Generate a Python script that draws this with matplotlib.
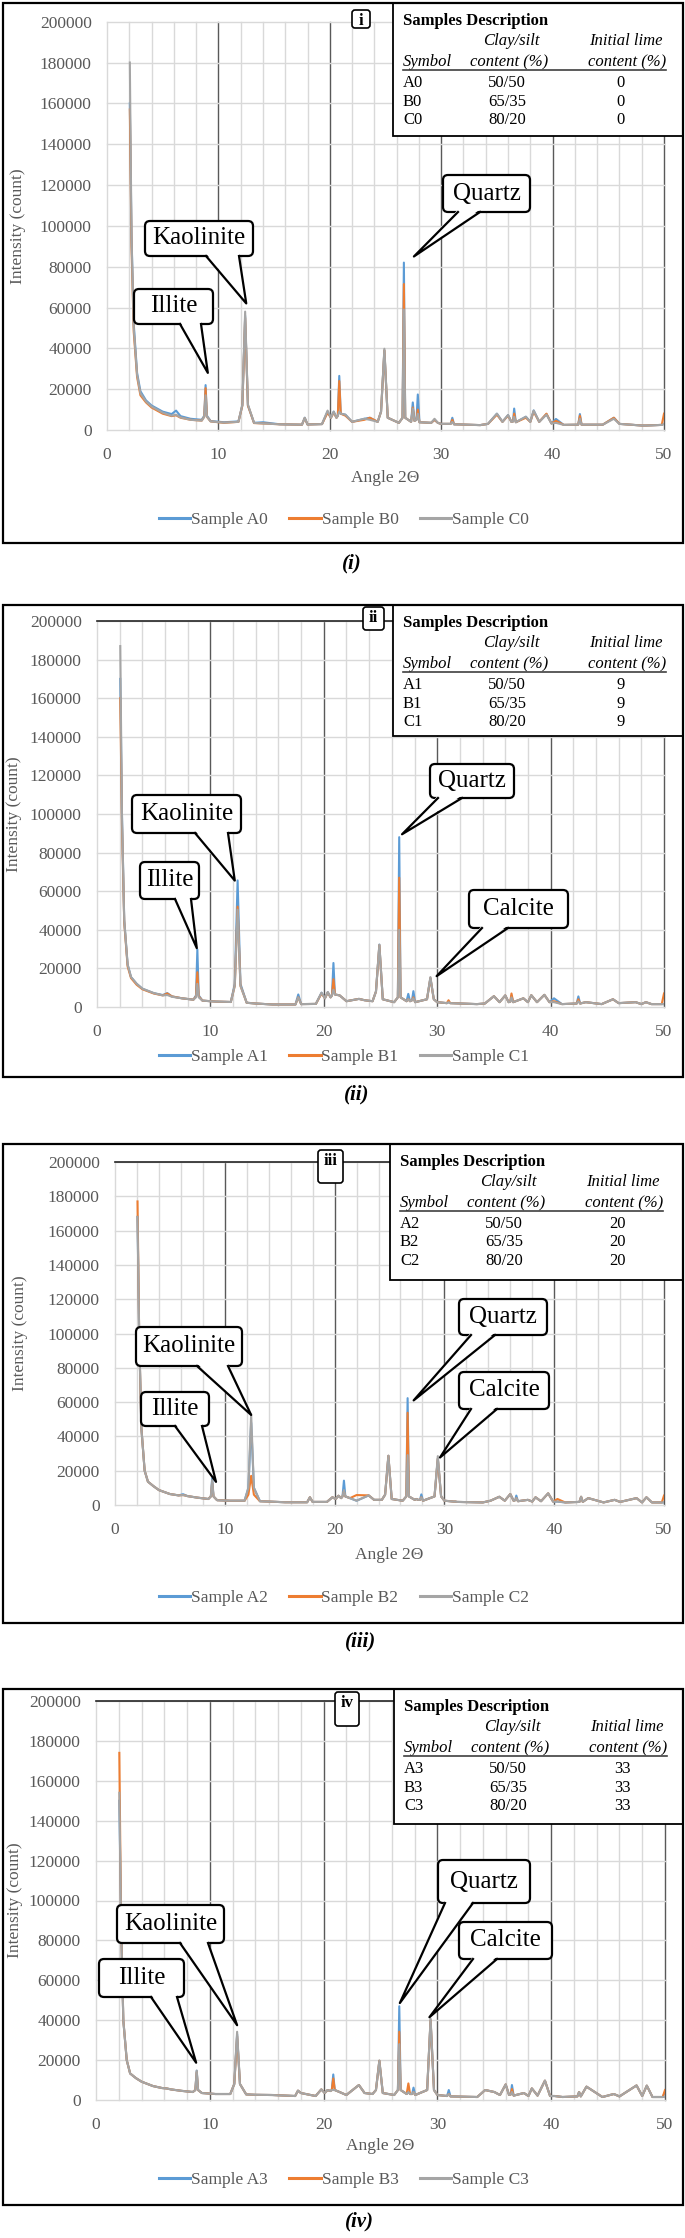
import matplotlib.pyplot as plt
import numpy as np
from matplotlib.patches import FancyBboxPatch, Polygon, Rectangle

plt.rcParams["font.family"] = ["Liberation Serif", "DejaVu Serif"]

W, H = 685, 2238

# 2-theta positions the scans were read at (same grid for every sample)
angle = [
    2.05, 2.2, 2.4, 2.7, 3.0, 3.5, 4.0, 5.0, 5.8, 6.2,
    6.6, 7.5, 8.5, 8.73, 8.85, 8.97, 9.3, 10.5, 11.8, 12.15,
    12.4, 12.65, 13.2, 14.0, 15.5, 17.5, 17.75, 18.0, 19.3, 19.8,
    20.1, 20.35, 20.6, 20.72, 20.85, 20.98, 21.4, 22.0, 23.1, 23.6,
    24.3, 24.6, 24.9, 25.2, 26.2, 26.53, 26.65, 26.77, 27.3, 27.45,
    27.6, 27.78, 27.9, 28.05, 29.1, 29.4, 29.7, 30.0, 30.85, 31.0,
    31.15, 33.5, 34.2, 35.0, 35.5, 36.0, 36.3, 36.45, 36.55, 36.7,
    37.6, 38.0, 38.3, 38.8, 39.45, 39.9, 40.3, 41.0, 42.3, 42.45,
    42.6, 43.1, 44.5, 45.5, 46.0, 47.5, 48.0, 48.4, 48.9, 49.8,
    50.0,
]

# intensities in thousands of counts
counts_a0 = [
    160, 95, 52, 28, 19, 14.5, 12, 9, 7.8, 9.5,
    6.8, 5.5, 5.0, 7.0, 22, 7.0, 4.4, 3.8, 4.2, 12,
    56, 12, 3.5, 3.8, 2.8, 2.6, 6.0, 2.7, 2.9, 9.0,
    6.0, 9.0, 6.0, 7.0, 26.5, 8.0, 7.5, 4.0, 5.5, 6.0,
    4.0, 9.0, 39, 6.0, 3.5, 6.0, 82, 6.0, 4.0, 13.5,
    4.5, 5.0, 17.4, 3.8, 3.5, 5.0, 3.5, 3.0, 3.0, 6.0,
    2.8, 2.4, 3.0, 8.0, 4.0, 7.3, 4.0, 4.2, 10.5, 3.8,
    6.5, 4.0, 9.6, 4.0, 7.8, 3.2, 5.4, 2.5, 2.6, 7.8,
    2.6, 2.6, 2.6, 6.0, 3.0, 2.4, 2.2, 2.2, 2.3, 2.5,
    3.0,
]
counts_b0 = [
    157, 90, 48, 26, 17, 13.5, 11, 8, 6.8, 7.2,
    6.0, 5.0, 4.6, 6.5, 20.5, 6.5, 4.2, 3.5, 4.0, 12,
    55, 12, 3.4, 3.2, 2.8, 2.6, 5.8, 2.7, 2.9, 8.5,
    6.0, 8.5, 6.0, 7.0, 24, 8.0, 7.0, 4.0, 5.0, 6.0,
    4.0, 9.0, 39, 6.0, 3.5, 6.0, 71.5, 6.0, 4.0, 11,
    4.5, 5.0, 10, 3.8, 3.5, 5.0, 3.5, 3.0, 3.0, 5.0,
    2.8, 2.4, 3.0, 7.5, 4.0, 7.0, 4.0, 4.2, 8.0, 3.8,
    6.0, 4.0, 9.0, 4.0, 8.0, 3.2, 4.5, 2.5, 2.6, 7.0,
    2.6, 2.6, 2.6, 6.0, 3.0, 2.4, 2.2, 2.2, 2.3, 2.5,
    8.0,
]
counts_c0 = [
    180, 95, 50, 27, 18, 14, 11.5, 8.5, 7.0, 7.5,
    6.2, 5.0, 4.6, 6.5, 17, 6.5, 4.2, 3.6, 4.0, 12.5,
    58, 12.5, 3.5, 3.2, 2.8, 2.6, 6.0, 2.7, 2.9, 9.5,
    6.0, 9.0, 6.0, 7.0, 9.0, 8.0, 7.5, 4.0, 5.5, 5.0,
    4.0, 9.0, 39.8, 6.0, 3.5, 6.0, 59, 6.0, 4.0, 10.5,
    4.5, 5.0, 8.0, 3.8, 3.5, 5.5, 3.5, 3.0, 3.0, 4.0,
    2.8, 2.4, 3.0, 8.0, 4.0, 7.3, 4.0, 4.2, 6.5, 3.8,
    6.5, 4.0, 9.5, 4.0, 7.5, 3.2, 3.5, 2.5, 2.6, 5.5,
    2.6, 2.6, 2.6, 5.5, 3.0, 2.4, 2.2, 2.2, 2.3, 2.5,
    3.0,
]

counts_a1 = [
    170, 100, 45, 22, 15.5, 12, 9.5, 7.2, 6.2, 7.2,
    5.5, 4.5, 3.8, 6.0, 29.8, 6.0, 3.3, 2.8, 2.6, 12,
    65.6, 12, 2.2, 1.8, 1.3, 1.3, 6.5, 1.5, 1.6, 7.4,
    4.5, 7.7, 5.0, 6.0, 22.8, 6.5, 6.0, 3.0, 4.2, 3.5,
    3.0, 8.0, 32.3, 4.0, 2.5, 5.0, 88, 5.0, 3.0, 6.8,
    3.0, 3.5, 8.2, 2.5, 4.0, 15, 4.0, 2.5, 2.0, 2.5,
    2.0, 1.5, 1.8, 5.6, 2.5, 6.0, 2.5, 2.8, 6.0, 2.5,
    4.5, 2.5, 6.1, 2.5, 6.3, 2.5, 4.5, 1.5, 1.8, 5.5,
    1.8, 2.5, 1.5, 4.0, 2.0, 2.5, 1.5, 2.5, 1.5, 1.5,
    1.5,
]
counts_b1 = [
    160, 95, 44, 21, 15, 11.5, 9.2, 7.0, 6.0, 7.0,
    5.5, 4.5, 3.8, 5.5, 18, 5.5, 3.3, 2.8, 2.6, 11,
    52, 11, 2.2, 1.8, 1.3, 1.3, 5.0, 1.5, 1.6, 7.0,
    4.5, 7.5, 5.0, 6.0, 14.4, 6.5, 6.0, 3.0, 4.2, 3.5,
    3.0, 8.0, 32, 4.0, 2.5, 5.0, 67, 5.0, 3.0, 4.0,
    3.0, 3.5, 5.0, 2.5, 4.0, 15, 4.0, 2.5, 2.0, 3.5,
    2.0, 1.5, 1.8, 5.6, 2.5, 6.0, 2.5, 2.8, 7.0, 2.5,
    4.5, 2.5, 6.1, 2.5, 6.3, 2.5, 3.0, 1.5, 1.8, 4.0,
    1.8, 2.5, 1.5, 4.0, 2.0, 2.5, 1.5, 2.5, 1.5, 1.5,
    7.0,
]
counts_c1 = [
    187, 100, 45, 22, 15.5, 12, 9.5, 7.2, 6.0, 6.2,
    5.3, 4.5, 3.8, 5.0, 12, 5.0, 3.3, 2.8, 2.6, 11,
    50.4, 11, 2.2, 1.8, 1.3, 1.3, 5.0, 1.5, 1.6, 7.4,
    4.5, 7.7, 5.0, 6.0, 9.0, 6.5, 6.0, 3.0, 4.2, 3.5,
    3.0, 8.0, 32.3, 4.0, 2.5, 5.0, 40, 5.0, 3.0, 4.0,
    3.0, 3.5, 4.5, 2.5, 4.0, 15.5, 4.0, 2.5, 2.0, 2.5,
    2.0, 1.5, 1.8, 5.6, 2.5, 6.0, 2.5, 2.8, 5.0, 2.5,
    4.5, 2.5, 6.1, 2.5, 6.3, 2.5, 2.5, 1.5, 1.8, 3.0,
    1.8, 2.5, 1.5, 4.0, 2.0, 2.5, 1.5, 2.5, 1.5, 1.5,
    1.5,
]

counts_a2 = [
    168, 100, 45, 20, 13.6, 11, 8.7, 6.4, 5.6, 6.3,
    5.2, 4.3, 3.5, 5.0, 15.5, 5.0, 2.8, 2.5, 2.5, 10,
    48, 10, 2.2, 2.0, 1.6, 1.6, 4.5, 1.8, 1.8, 4.5,
    3.5, 5.4, 4.0, 5.0, 14.2, 5.0, 4.0, 2.5, 5.6, 3.0,
    3.0, 6.0, 28.7, 3.5, 2.5, 5.0, 62.3, 5.0, 3.0, 3.5,
    3.0, 3.0, 6.2, 2.5, 5.0, 27, 5.0, 2.5, 2.0, 2.0,
    1.8, 1.5, 2.5, 4.8, 2.5, 6.4, 2.5, 2.8, 5.5, 2.2,
    3.0, 2.0, 4.5, 2.2, 6.8, 2.0, 2.0, 1.5, 1.8, 4.8,
    1.8, 4.0, 1.5, 3.0, 1.8, 4.0, 1.5, 4.5, 1.5, 1.5,
    1.5,
]
counts_b2 = [
    177, 100, 45, 20, 13.6, 11, 8.7, 6.4, 5.6, 5.8,
    5.2, 4.3, 3.5, 5.0, 13, 5.0, 2.8, 2.5, 2.5, 6.0,
    17, 6.0, 2.2, 2.0, 1.6, 1.6, 4.5, 1.8, 1.8, 4.5,
    3.5, 5.4, 4.0, 5.0, 8.0, 5.0, 4.0, 5.8, 5.6, 3.0,
    3.0, 6.0, 28.7, 3.5, 2.5, 5.0, 53.8, 5.0, 3.0, 3.5,
    3.0, 3.0, 4.5, 2.5, 5.0, 27, 5.0, 2.5, 2.0, 2.0,
    1.8, 1.5, 2.5, 4.8, 2.5, 6.4, 2.5, 2.8, 4.0, 2.2,
    3.0, 2.0, 4.5, 2.2, 6.8, 2.0, 3.5, 1.5, 1.8, 4.8,
    1.8, 4.0, 1.5, 3.0, 1.8, 4.0, 1.5, 4.5, 1.5, 1.5,
    5.5,
]
counts_c2 = [
    168, 100, 45, 20, 13.6, 11, 8.7, 6.4, 5.6, 5.8,
    5.2, 4.3, 3.5, 5.0, 14.5, 5.0, 2.8, 2.5, 2.5, 10,
    53, 10, 2.2, 2.0, 1.6, 1.6, 4.5, 1.8, 1.8, 4.5,
    3.5, 5.4, 4.0, 5.0, 8.7, 5.0, 4.0, 2.5, 5.6, 3.0,
    3.0, 6.0, 28.7, 3.5, 2.5, 5.0, 29.1, 5.0, 3.0, 3.5,
    3.0, 3.0, 4.5, 2.5, 5.0, 28.5, 5.0, 2.5, 2.0, 2.0,
    1.8, 1.5, 2.5, 4.8, 2.5, 6.4, 2.5, 2.8, 4.0, 2.2,
    3.0, 2.0, 4.5, 2.2, 6.8, 2.0, 2.0, 1.5, 1.8, 4.8,
    1.8, 4.0, 1.5, 3.0, 1.8, 4.0, 1.5, 4.5, 1.5, 1.5,
    1.5,
]

counts_a3 = [
    150, 90, 40, 20, 13.3, 11, 9.2, 7.0, 6.0, 5.8,
    5.3, 4.6, 4.0, 5.0, 14.7, 5.0, 3.5, 3.0, 3.0, 8.0,
    33, 8.0, 2.8, 2.6, 2.5, 2.0, 4.7, 3.5, 2.0, 5.3,
    3.5, 5.0, 4.5, 5.0, 12.8, 5.0, 4.0, 2.5, 7.5, 3.5,
    3.0, 5.0, 19.7, 3.5, 2.5, 5.0, 47, 5.0, 3.0, 4.0,
    3.0, 3.0, 6.2, 2.5, 5.0, 40, 5.0, 2.5, 2.0, 5.0,
    1.8, 1.5, 5.0, 4.0, 2.5, 7.8, 2.5, 2.8, 7.5, 2.2,
    3.5, 2.0, 5.8, 2.2, 9.7, 2.0, 2.0, 1.5, 1.8, 4.0,
    1.8, 6.7, 1.5, 3.0, 1.8, 7.3, 2.0, 7.2, 1.5, 1.5,
    4.0,
]
counts_b3 = [
    174, 90, 40, 20, 13.3, 11, 9.2, 7.0, 6.0, 5.8,
    5.3, 4.6, 4.0, 5.0, 14.0, 5.0, 3.5, 3.0, 3.0, 8.0,
    32, 8.0, 2.8, 2.6, 2.5, 2.0, 4.7, 3.5, 2.0, 5.3,
    3.5, 5.0, 4.5, 5.0, 10.8, 5.0, 4.0, 2.5, 7.5, 3.5,
    3.0, 5.0, 19.7, 3.5, 2.5, 5.0, 34.2, 5.0, 3.0, 8.3,
    3.0, 3.0, 4.0, 2.5, 5.0, 40, 5.0, 2.5, 2.0, 3.0,
    1.8, 1.5, 5.0, 4.0, 2.5, 7.8, 2.5, 2.8, 5.5, 2.2,
    3.5, 2.0, 5.8, 2.2, 9.7, 2.0, 2.0, 1.5, 1.8, 4.0,
    1.8, 6.7, 1.5, 3.0, 1.8, 7.3, 2.0, 7.2, 1.5, 1.5,
    5.0,
]
counts_c3 = [
    154, 90, 40, 20, 13.3, 11, 9.2, 7.0, 6.0, 5.8,
    5.3, 4.6, 4.0, 5.0, 14.7, 5.0, 3.5, 3.0, 3.0, 8.0,
    34.2, 8.0, 2.8, 2.6, 2.5, 2.0, 4.7, 3.5, 2.0, 5.3,
    3.5, 5.0, 4.5, 5.0, 5.0, 5.0, 4.0, 2.5, 7.5, 3.5,
    3.0, 5.0, 19.7, 3.5, 2.5, 5.0, 28, 5.0, 3.0, 4.0,
    3.0, 3.0, 4.0, 2.5, 5.0, 40.8, 5.0, 2.5, 2.0, 3.0,
    1.8, 1.5, 5.0, 4.0, 2.5, 7.8, 2.5, 2.8, 4.0, 2.2,
    3.5, 2.0, 5.8, 2.2, 9.7, 2.0, 2.0, 1.5, 1.8, 4.0,
    1.8, 6.7, 1.5, 3.0, 1.8, 7.3, 2.0, 7.2, 1.5, 1.5,
    1.5,
]

panel_tags = ["i", "ii", "iii", "iv"]
sample_letters = ["A", "B", "C"]
clay_silt = ["50/50", "65/35", "80/20"]
lime_content = ["0", "9", "20", "33"]

# mineral labels and the (angle, intensity) each callout points at
minerals = [
    ["Illite", "Kaolinite", "Quartz"],
    ["Illite", "Kaolinite", "Quartz", "Calcite"],
    ["Illite", "Kaolinite", "Quartz", "Calcite"],
    ["Illite", "Kaolinite", "Quartz", "Calcite"],
]
mineral_tips = [
    [(9.05, 28000), (12.5, 62000), (27.55, 85000)],
    [(8.8, 30500), (12.15, 65500), (26.9, 89500), (29.95, 16000)],
    [(9.2, 13500), (12.4, 52500), (27.2, 61000), (29.6, 27700)],
    [(8.8, 18700), (12.4, 37500), (26.7, 48600), (29.3, 41500)],
]

scans = [
    [counts_a0, counts_b0, counts_c0],
    [counts_a1, counts_b1, counts_c1],
    [counts_a2, counts_b2, counts_c2],
    [counts_a3, counts_b3, counts_c3],
]

colors = ["#5B9BD5", "#ED7D31", "#A5A5A5"]
LIGHT = "#d9d9d9"
DARK = "#595959"
TXT = "#595959"

# pixel layout of each panel (left, top, right, bottom)
layout = [
    dict(frame=(3, 3, 683, 543), axes=(107, 21.7, 664, 430), ylab_x=18,
         xlab_y=478, leg_y=520, table=(393, 3, 683, 136),
         tag=(352, 10, 370, 28), caption=(352, 563),
         boxes=[(134, 289, 213, 324), (145, 221, 253, 256), (443, 175, 530, 212)],
         bases=[(180, 201), (206, 239), (458, 480)]),
    dict(frame=(3, 605, 683, 1077), axes=(97, 621, 664, 1007), ylab_x=14.5,
         xlab_y=None, leg_y=1057, table=(393, 605, 683, 736),
         tag=(363, 607, 384, 630), caption=(357, 1094),
         boxes=[(140, 862, 199, 899), (132, 795, 241, 833), (430, 764, 514, 798),
                (469, 890, 568, 928)],
         bases=[(175, 191), (195, 228), (438, 462), (482, 508)]),
    dict(frame=(3, 1144, 683, 1623), axes=(115, 1162, 664, 1505), ylab_x=20.5,
         xlab_y=1555, leg_y=1598, table=(390, 1144, 683, 1280),
         tag=(318, 1150, 343, 1183), caption=(361, 1641),
         boxes=[(141, 1392, 209, 1426), (136, 1327, 242, 1366), (459, 1299, 547, 1335),
                (459, 1372, 549, 1409)],
         bases=[(175, 202), (197, 228), (471, 495), (471, 497)]),
    dict(frame=(3, 1689, 683, 2205), axes=(96, 1701, 665, 2100), ylab_x=15,
         xlab_y=2146, leg_y=2180, table=(394, 1689, 683, 1824),
         tag=(335, 1692, 359, 1726), caption=(359, 2221),
         boxes=[(99, 1959, 184, 1997), (117, 1905, 224, 1943), (438, 1860, 530, 1903),
                (459, 1922, 552, 1959)],
         bases=[(151, 177), (180, 208), (445, 473), (473, 497)]),
]


def fig_rect(left, top, right, bottom):
    return [left / W, 1 - bottom / H, (right - left) / W, (bottom - top) / H]


def callout(ov, label, box, base, tip):
    l, t, r, b = box
    ov.add_patch(FancyBboxPatch((l, t), r - l, b - t, boxstyle="round,pad=0,rounding_size=5",
                                fc="white", ec="black", lw=1.6, zorder=11))
    ov.add_patch(Polygon([(base[0], b - 2.5), tip, (base[1], b - 2.5)], closed=True,
                         fc="white", ec="none", zorder=12))
    ov.plot([base[0], tip[0], base[1]], [b, tip[1], b], color="black", lw=1.6, zorder=13)
    ov.text((l + r) / 2, (t + b) / 2, label, size=18, ha="center", va="center", zorder=14)


fig = plt.figure(figsize=(W / 100, H / 100), dpi=100)
ov = fig.add_axes([0, 0, 1, 1], zorder=10)
ov.set_xlim(0, W)
ov.set_ylim(H, 0)
ov.axis("off")

yticks = list(range(0, 200001, 20000))

for k, lay in enumerate(layout):
    ax = fig.add_axes(fig_rect(*lay["axes"]))
    ax.set_xlim(0, 50)
    ax.set_ylim(0, 200000)
    for v in range(0, 51, 2):
        ax.axvline(v, color=DARK if (v % 10 == 0 and v > 0) else LIGHT, lw=1, zorder=0, clip_on=False)
    for h in yticks:
        ax.axhline(h, color=LIGHT, lw=1, zorder=0, clip_on=False)
    if k > 0:
        ax.axhline(200000, color="#262626", lw=1.2, zorder=0, clip_on=False)

    for letter, series, color in zip(sample_letters, scans[k], colors):
        ax.plot(angle, np.array(series) * 1000, color=color, lw=1.5,
                label=f"Sample {letter}{k}", zorder=2)

    ax.set_xticks(range(0, 51, 10))
    ax.set_yticks(yticks, labels=[str(t) for t in yticks])
    ax.tick_params(axis="both", length=0, labelsize=12.5, labelcolor=TXT)
    ax.tick_params(axis="x", pad=12)
    ax.tick_params(axis="y", pad=11)
    for s in ax.spines.values():
        s.set_visible(False)

    leg = ax.legend(loc="center", bbox_to_anchor=(344 / W, 1 - lay["leg_y"] / H),
                    bbox_transform=fig.transFigure, ncol=3, frameon=False, fontsize=12.5,
                    handlelength=1.8, handletextpad=0.05, columnspacing=1.25, labelcolor=TXT)
    for line in leg.get_lines():
        line.set_linewidth(2.2)

    al, at, ar, ab = lay["axes"]
    ov.text(lay["ylab_x"], (at + ab) / 2, "Intensity (count)", rotation=90, size=12.5,
            color=TXT, ha="center", va="center")
    if lay["xlab_y"] is not None:
        ov.text((al + ar) / 2, lay["xlab_y"], "Angle 2\u0398", size=12.5, color=TXT,
                ha="center", va="center")

    # outer frame and caption
    fl, ft, fr, fb = lay["frame"]
    ov.add_patch(Rectangle((fl, ft), fr - fl, fb - ft, fill=False, ec="black", lw=1.6, zorder=20))
    cx, cy = lay["caption"]
    ov.text(cx, cy, f"({panel_tags[k]})", size=15, weight="bold", style="italic",
            ha="center", va="center")

    # panel tag
    gl, gt, gr, gb = lay["tag"]
    ov.add_patch(FancyBboxPatch((gl, gt), gr - gl, gb - gt, boxstyle="round,pad=0,rounding_size=3",
                                fc="white", ec="black", lw=1.2, zorder=11))
    ov.text((gl + gr) / 2, gt + 11, panel_tags[k], size=12, weight="bold",
            ha="center", va="center", zorder=12)

    # samples description table
    tl, tt, tr, tb = lay["table"]
    ov.add_patch(Rectangle((tl, tt), tr - tl, tb - tt, fc="white", ec="black", lw=1.3, zorder=11))
    kw = dict(size=12, va="center", zorder=12)
    ov.text(tl + 10, tt + 18, "Samples Description", weight="bold", **kw)
    ov.text(tl + 118, tt + 38, "Clay/silt", style="italic", ha="center", **kw)
    ov.text(tl + 233, tt + 38, "Initial lime", style="italic", ha="center", **kw)
    ov.text(tl + 10, tt + 59, "Symbol", style="italic", **kw)
    ov.text(tl + 116, tt + 59, "content (%)", style="italic", ha="center", **kw)
    ov.text(tl + 234, tt + 59, "content (%)", style="italic", ha="center", **kw)
    ov.plot([tl + 10, tl + 273], [tt + 67, tt + 67], color="#404040", lw=1.2, zorder=12)
    for j, letter in enumerate(sample_letters):
        ry = tt + 80 + j * 18.5
        ov.text(tl + 10, ry, f"{letter}{k}", **kw)
        ov.text(tl + 114, ry, clay_silt[j], ha="center", **kw)
        ov.text(tl + 228, ry, lime_content[k], ha="center", **kw)

    # mineral callouts
    for label, box, base, tip in zip(minerals[k], lay["boxes"], lay["bases"], mineral_tips[k]):
        tip_px = ov.transData.inverted().transform(ax.transData.transform(tip))
        callout(ov, label, box, base, tuple(tip_px))

fig.savefig("out.png", dpi=100)
plt.close(fig)
